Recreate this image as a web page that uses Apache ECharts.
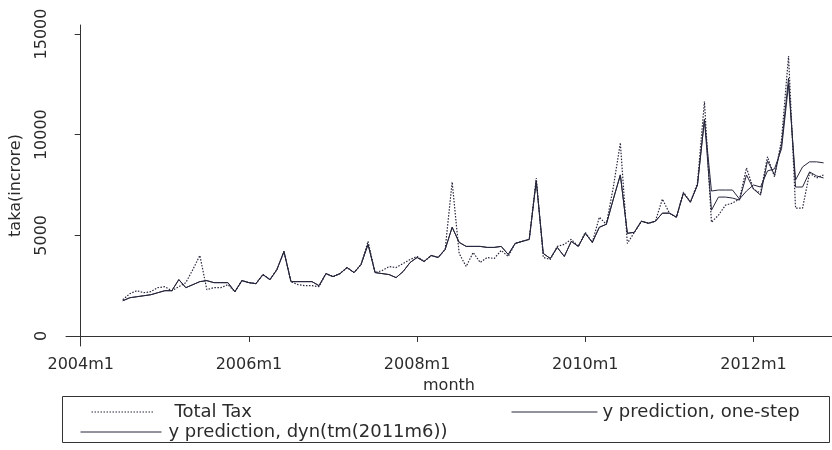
<!DOCTYPE html>
<html>
<head>
<meta charset="utf-8">
<script src="https://cdn.jsdelivr.net/npm/echarts@6/dist/echarts.min.js"></script>
<style>
html, body { margin: 0; padding: 0; background: #fff; }
#main { width: 832px; height: 450px; }
</style>
</head>
<body>
<div id="main"></div>
<script>
var chart = echarts.init(document.getElementById('main'));

// months counted from 2004m1 = 0; data run 2004m7 .. 2012m11
var startMonth = 6;
var xTicks = [0, 24, 48, 72, 96];
var yTicks = [0, 5000, 10000, 15000];

var totalTax = [
    1800, 2100, 2250, 2150, 2200, 2400,
    2450, 2250, 2450, 2650, 3300, 4000, 2300, 2400, 2400, 2550, 2200, 2750,
    2650, 2600, 3050, 2800, 3300, 4200, 2700, 2550, 2500, 2500, 2450, 3100,
    2950, 3100, 3400, 3150, 3550, 4700, 3150, 3250, 3450, 3400, 3600, 3800,
    3950, 3700, 4000, 3900, 4300, 7650, 4100, 3450, 4150, 3650, 3900, 3850,
    4250, 3950, 4600, 4700, 4800, 7850, 3900, 3800, 4450, 4550, 4800, 4450,
    5150, 4650, 5900, 5550, 7400, 9600, 4600, 5150, 5700, 5600, 5700, 6800,
    6100, 5900, 7150, 6650, 7600, 11650, 5650, 6000, 6500, 6600, 6800, 8350,
    7300, 7100, 8900, 7900, 9750, 13900, 6350, 6350, 8100, 7850, 8000
];

var oneStep = [
    1750, 1900, 1950, 2000, 2050, 2150,
    2250, 2250, 2800, 2400, 2550, 2700, 2750, 2650, 2650, 2650, 2200, 2750,
    2650, 2600, 3050, 2800, 3300, 4200, 2700, 2700, 2700, 2700, 2500, 3100,
    2950, 3100, 3400, 3150, 3550, 4550, 3150, 3100, 3050, 2900, 3200, 3650,
    3900, 3700, 4000, 3900, 4300, 5400, 4650, 4450, 4450, 4450, 4400, 4400,
    4450, 4050, 4600, 4700, 4800, 7700, 4100, 3850, 4400, 3950, 4700, 4450,
    5100, 4650, 5400, 5550, 6800, 8000, 5100, 5150, 5700, 5600, 5700, 6100,
    6100, 5900, 7100, 6650, 7500, 10750, 6250, 6900, 6900, 6850, 6750, 8000,
    7300, 7000, 8700, 8000, 9500, 12800, 7400, 7400, 8150, 7950, 7850
];

// dynamic forecast from 2011m6 on; before that it is the one-step value
var dynStart = 89;
var dynTail = [
    10750, 7200, 7250, 7250, 7250, 6800, 7200,
    7500, 7400, 8200, 8300, 9300, 12500, 7750, 8400, 8650, 8650, 8600
];
var dynPred = oneStep.slice(0, dynStart - startMonth).concat(dynTail);

function toPairs(arr) {
    return arr.map(function (v, i) { return [startMonth + i, v]; });
}

var ink = '#26263c';
var txt = '#2b2b2b';
var font = 'DejaVu Sans';

function legendBox(name, left, top, iconW, gap) {
    return {
        data: [name],
        left: left, top: top,
        padding: 0,
        itemWidth: iconW, itemHeight: 14,
        itemStyle: { color: 'rgba(0,0,0,0)', borderColor: 'rgba(0,0,0,0)', borderWidth: 0 },
        lineStyle: { width: 1 },
        textStyle: { color: txt, fontFamily: font, fontSize: 18, padding: [0, 0, 0, gap] }
    };
}

option = {
    backgroundColor: '#fff',
    animation: false,
    grid: {
        left: 59,
        right: 0,
        top: 25,
        bottom: 104
    },
    xAxis: {
        type: 'value',
        min: -2.1,
        max: 107.2,
        name: 'month',
        nameLocation: 'middle',
        nameGap: 25,
        nameTextStyle: { color: txt, fontFamily: font, fontSize: 16 },
        axisLine: { lineStyle: { color: '#333', width: 1 } },
        axisTick: { show: true, length: 6, customValues: xTicks, lineStyle: { color: '#333' } },
        axisLabel: {
            color: txt,
            fontFamily: font,
            fontSize: 16,
            margin: 11,
            customValues: xTicks,
            formatter: function (v) {
                return (2004 + Math.floor(v / 12)) + 'm' + (v % 12 + 1);
            }
        },
        splitLine: { show: false }
    },
    yAxis: {
        type: 'value',
        min: -497,
        max: 15447,
        name: 'taka(incrore)',
        nameLocation: 'middle',
        nameGap: 42,
        nameTextStyle: { color: txt, fontFamily: font, fontSize: 16 },
        axisLine: { show: true, lineStyle: { color: '#333', width: 1 } },
        axisTick: { show: true, length: 6, customValues: yTicks, lineStyle: { color: '#333' } },
        axisLabel: {
            color: txt,
            fontFamily: font,
            fontSize: 16,
            rotate: 90,
            margin: 16,
            customValues: yTicks,
            formatter: function (v) { return String(v); }
        },
        splitLine: { show: false }
    },
    legend: [
        legendBox('Total Tax', 91, 403, 63, 15),
        legendBox('y prediction, one-step', 511, 403, 86, 0),
        legendBox('y prediction, dyn(tm(2011m6))', 80, 423, 81, 2)
    ],
    graphic: [
        {
            type: 'rect',
            shape: { x: 62.5, y: 396.5, width: 767, height: 46 },
            style: { fill: 'none', stroke: '#333', lineWidth: 1 },
            z: -1
        }
    ],
    series: [
        {
            name: 'Total Tax',
            type: 'line',
            data: toPairs(totalTax),
            symbol: 'none',
            lineStyle: { color: ink, width: 1.2, type: [1.5, 1.5] },
            itemStyle: { color: ink },
            z: 3
        },
        {
            name: 'y prediction, one-step',
            type: 'line',
            data: toPairs(oneStep),
            symbol: 'none',
            lineStyle: { color: ink, width: 1 },
            itemStyle: { color: ink },
            z: 2
        },
        {
            name: 'y prediction, dyn(tm(2011m6))',
            type: 'line',
            data: toPairs(dynPred),
            symbol: 'none',
            lineStyle: { color: ink, width: 1 },
            itemStyle: { color: ink },
            z: 2
        }
    ]
};
chart.setOption(option);
</script>
</body>
</html>
